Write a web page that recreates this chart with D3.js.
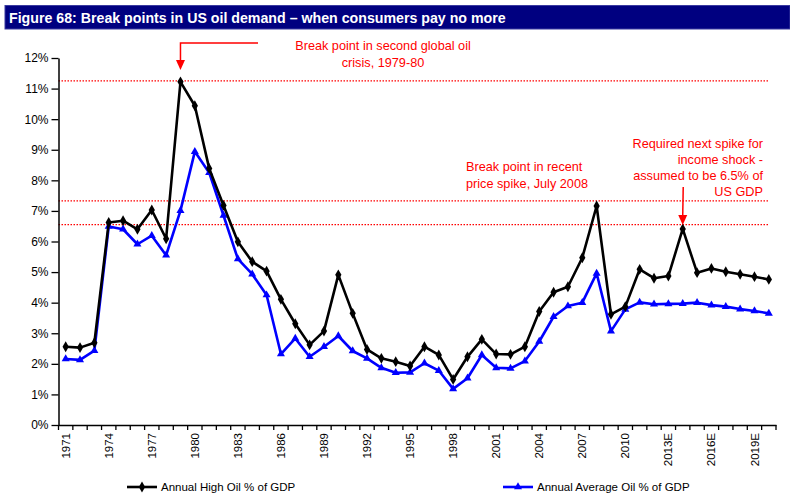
<!DOCTYPE html>
<html>
<head>
<meta charset="utf-8">
<script src="https://cdn.jsdelivr.net/npm/d3@7"></script>
<style>
  html, body { margin: 0; padding: 0; background: #fff; }
  svg { display: block; font-family: "Liberation Sans", Arial, sans-serif; }
</style>
</head>
<body>
<svg id="chart" width="790" height="504"></svg>
<script>
// ---- data ----
const years = ["1971","1972","1973","1974","1975","1976","1977","1978","1979","1980",
  "1981","1982","1983","1984","1985","1986","1987","1988","1989","1990",
  "1991","1992","1993","1994","1995","1996","1997","1998","1999","2000",
  "2001","2002","2003","2004","2005","2006","2007","2008","2009","2010",
  "2011","2012","2013E","2014E","2015E","2016E","2017E","2018E","2019E","2020E"];
const highOil = [2.56,2.53,2.69,6.62,6.68,6.40,7.03,6.09,11.22,10.44,
  8.39,7.18,5.99,5.34,5.03,4.11,3.31,2.62,3.07,4.91,
  3.65,2.47,2.18,2.07,1.93,2.56,2.29,1.49,2.23,2.80,
  2.32,2.31,2.56,3.71,4.34,4.52,5.47,7.16,3.62,3.87,
  5.09,4.80,4.87,6.41,4.98,5.12,5.01,4.93,4.85,4.76];
const avgOil = [2.16,2.13,2.43,6.49,6.40,5.91,6.19,5.55,7.01,8.94,
  8.25,6.85,5.43,4.93,4.25,2.32,2.83,2.23,2.56,2.91,
  2.42,2.18,1.87,1.71,1.72,2.02,1.78,1.18,1.53,2.29,
  1.87,1.85,2.09,2.73,3.54,3.89,4.00,4.96,3.07,3.78,
  4.01,3.95,3.96,3.97,4.00,3.92,3.87,3.79,3.73,3.65];
const breakLevels = [11.25, 7.33, 6.55];
const yTicks = [0,1,2,3,4,5,6,7,8,9,10,11,12];
const labelEvery = 3;
const titleText = "Figure 68: Break points in US oil demand \u2013 when consumers pay no more";
const seriesNames = ["Annual High Oil % of GDP", "Annual Average Oil % of GDP"];

// ---- layout ----
const svg = d3.select("#chart");
const margin = { left: 58.5, right: 776, top: 58, bottom: 425 };

const x = d3.scaleBand().domain(years).range([margin.left, margin.right]).padding(0);
const y = d3.scaleLinear().domain([0, 12]).range([margin.bottom, margin.top]);

// title bar
svg.append("rect").attr("x", 5).attr("y", 5.5).attr("width", 785).attr("height", 23.5)
  .attr("fill", "#000080").attr("stroke", "#3a3aa0").attr("stroke-width", 1);
svg.append("text").attr("x", 9).attr("y", 23).attr("fill", "#fff")
  .attr("font-size", 14.2).attr("font-weight", "bold").text(titleText);

// break-point dotted lines
svg.append("g").selectAll("line").data(breakLevels).join("line")
  .attr("x1", margin.left).attr("x2", 768)
  .attr("y1", d => y(d)).attr("y2", d => y(d))
  .attr("stroke", "#ff0000").attr("stroke-width", 1.3).attr("stroke-dasharray", "1.5,1.5");

// y axis
const yAxis = d3.axisLeft(y).tickValues(yTicks).tickFormat(d => d + "%").tickSize(7).tickSizeOuter(0).tickPadding(3);
const gy = svg.append("g").attr("transform", `translate(${margin.left},0)`).call(yAxis);
gy.select(".domain").attr("stroke", "#000").attr("stroke-width", 1.5);
gy.selectAll(".tick line").attr("stroke", "#000").attr("stroke-width", 1.3);
gy.selectAll(".tick text").attr("font-size", 12).attr("fill", "#000")
  .attr("font-family", "'Liberation Sans', Arial, sans-serif");

// x axis
const xAxis = d3.axisBottom(x).tickValues(years.filter((d, i) => i % labelEvery === 0))
  .tickSize(0).tickSizeOuter(0).tickPadding(0);
const gx = svg.append("g").attr("transform", `translate(0,${margin.bottom})`).call(xAxis);
gx.select(".domain").attr("stroke", "#000").attr("stroke-width", 1.5);
gx.selectAll(".tick text")
  .attr("font-size", 11.5).attr("fill", "#000")
  .attr("font-family", "'Liberation Sans', Arial, sans-serif")
  .attr("text-anchor", "end")
  .attr("dy", "0.35em")
  .attr("transform", "translate(0,8) rotate(-90)")
  .attr("y", 0).attr("x", 0);
// boundary ticks
const bounds = years.map(d => x(d)).concat([x(years[years.length - 1]) + x.bandwidth()]);
gx.append("g").selectAll("line").data(bounds).join("line")
  .attr("x1", d => d).attr("x2", d => d).attr("y1", 0).attr("y2", 5)
  .attr("stroke", "#000").attr("stroke-width", 1.3);

const cx = d => x(d) + x.bandwidth() / 2;
const line = d3.line().x(d => cx(d[0])).y(d => y(d[1]));

// average series (blue)
const avgData = years.map((d, i) => [d, avgOil[i]]);
svg.append("path").datum(avgData).attr("d", line).attr("fill", "none")
  .attr("stroke", "#0000ff").attr("stroke-width", 2.6).attr("stroke-linejoin", "round");
const tri = d3.symbol().type(d3.symbolTriangle).size(28);
svg.append("g").selectAll("path").data(avgData).join("path")
  .attr("d", tri).attr("transform", d => `translate(${cx(d[0])},${y(d[1])})`).attr("fill", "#0000ff");

// high series (black)
const highData = years.map((d, i) => [d, highOil[i]]);
svg.append("path").datum(highData).attr("d", line).attr("fill", "none")
  .attr("stroke", "#000").attr("stroke-width", 2.6).attr("stroke-linejoin", "round");
const dia = d3.symbol().type(d3.symbolDiamond).size(34);
svg.append("g").selectAll("path").data(highData).join("path")
  .attr("d", dia).attr("transform", d => `translate(${cx(d[0])},${y(d[1])})`).attr("fill", "#000");

// annotations
const red = "#ff0000";
const ann = svg.append("g").attr("fill", red).attr("font-size", 12.7);
// 1979 arrow
const ax1 = cx("1979");
ann.append("path").attr("d", `M258,43 H${ax1} V60`).attr("fill", "none").attr("stroke", red).attr("stroke-width", 1.5);
ann.append("path").attr("d", `M${ax1 - 4.5},60 L${ax1 + 4.5},60 L${ax1},70 Z`).attr("fill", red);
ann.append("text").attr("x", 383).attr("y", 50).attr("text-anchor", "middle").text("Break point in second global oil");
ann.append("text").attr("x", 383).attr("y", 66.5).attr("text-anchor", "middle").text("crisis, 1979-80");
// 2008 text
ann.append("text").attr("x", 466).attr("y", 171).text("Break point in recent");
ann.append("text").attr("x", 466).attr("y", 188).text("price spike, July 2008");
// 2014 text & arrow
["Required next spike for", "income shock -", "assumed to be 6.5% of", "US GDP"].forEach((t, i) => {
  ann.append("text").attr("x", 763).attr("y", 147.5 + i * 16.2).attr("text-anchor", "end").text(t);
});
const ax2 = cx("2014E");
ann.append("line").attr("x1", ax2 + 0.5).attr("x2", ax2).attr("y1", 187).attr("y2", 216)
  .attr("stroke", red).attr("stroke-width", 1.5);
ann.append("path").attr("d", `M${ax2 - 4.5},215 L${ax2 + 4.5},215 L${ax2},225 Z`).attr("fill", red);

// legend
const leg = svg.append("g").attr("font-size", 11.5);
const legItems = [
  { name: seriesNames[0], color: "#000", sym: dia, x: 127 },
  { name: seriesNames[1], color: "#0000ff", sym: tri, x: 503 }
];
legItems.forEach(it => {
  leg.append("line").attr("x1", it.x).attr("x2", it.x + 30).attr("y1", 487).attr("y2", 487)
    .attr("stroke", it.color).attr("stroke-width", 2.6);
  leg.append("path").attr("d", it.sym).attr("transform", `translate(${it.x + 15},487)`).attr("fill", it.color);
  leg.append("text").attr("x", it.x + 34).attr("y", 491).attr("fill", "#000").text(it.name);
});
</script>
</body>
</html>
